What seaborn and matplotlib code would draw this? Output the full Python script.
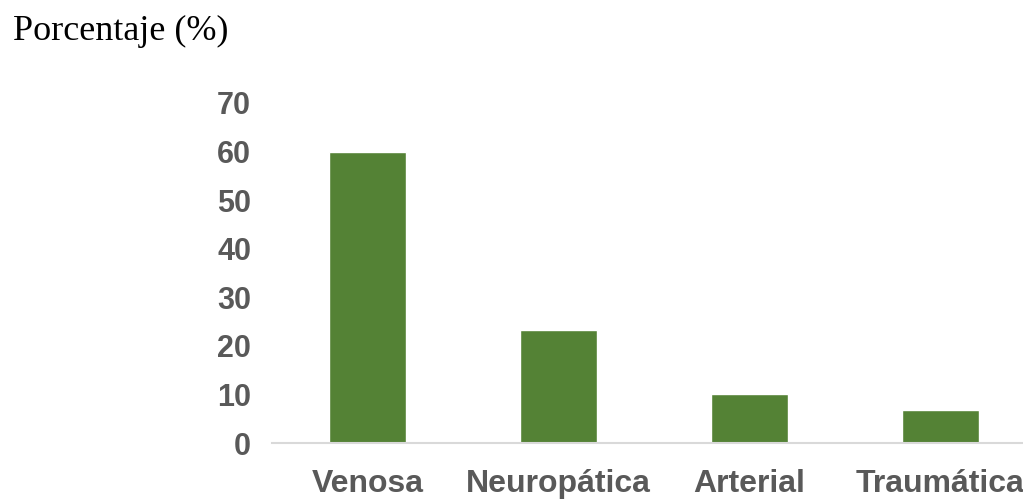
import matplotlib
matplotlib.use("Agg")
import matplotlib.pyplot as plt
import seaborn as sns
import pandas as pd

# Ulcer aetiology distribution
categories = ["Venosa", "Neuropática", "Arterial", "Traumática"]
percentages = [60.0, 23.3, 10.0, 6.7]
y_ticks = [0, 10, 20, 30, 40, 50, 60, 70]

df = pd.DataFrame({"tipo": categories, "porcentaje": percentages})

sns.set_theme(style="white")
plt.rcParams["font.family"] = ["Liberation Sans", "DejaVu Sans"]

fig = plt.figure(figsize=(10.23, 4.99), dpi=100)
ax = fig.add_axes([0.2659, 0.1122, 0.7468, 0.6814])

sns.barplot(data=df, x="tipo", y="porcentaje", color="#548235",
            saturation=1, width=0.40, ax=ax)

ax.set_ylim(0, 70)
ax.set_xlim(-0.5, 3.5)
ax.set_yticks(y_ticks)
ax.set_yticklabels([str(t) for t in y_ticks])
ax.set_xlabel("")
ax.set_ylabel("")

for s in ["top", "right", "left"]:
    ax.spines[s].set_visible(False)
ax.spines["bottom"].set_color("#d9d9d9")
ax.spines["bottom"].set_linewidth(1.5)
ax.spines["bottom"].set_clip_on(False)

ax.tick_params(axis="y", length=0, pad=15, labelsize=22,
               labelcolor="#595959")
ax.tick_params(axis="x", length=0, pad=19, labelsize=23,
               labelcolor="#595959")
for lab in ax.get_xticklabels() + ax.get_yticklabels():
    lab.set_fontweight("bold")

fig.text(0.013, 0.92, "Porcentaje (%)", fontsize=26,
         family=["Liberation Serif", "DejaVu Serif"], color="black",
         ha="left", va="baseline")

fig.savefig("out.png", dpi=100)
